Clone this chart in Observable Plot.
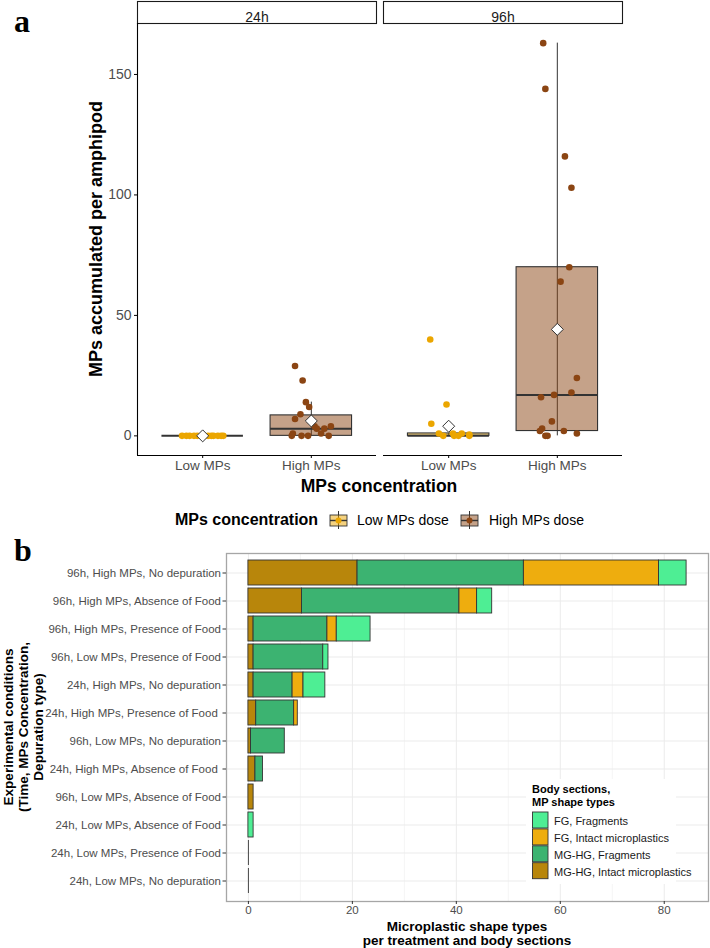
<!DOCTYPE html>
<html>
<head>
<meta charset="utf-8">
<script src="https://cdn.jsdelivr.net/npm/d3@7"></script>
<script src="https://cdn.jsdelivr.net/npm/@observablehq/plot@0.6"></script>
<style>
  html,body{margin:0;padding:0;background:#fff;}
  #root{position:relative;width:710px;height:948px;overflow:hidden;background:#fff;}
</style>
</head>
<body>
<div id="root"></div>
<script>
const FONT = "'Liberation Sans', Arial, Helvetica, sans-serif";

// ================= Panel a data =================
const times = ["24h", "96h"];
const concentrations = ["Low MPs", "High MPs"];
const concColors = ["#EBA600", "#8B4513"];
const legendConcLabels = ["Low MPs dose", "High MPs dose"];

const v24Low  = [0, 0, 0, 0, 0, 0, 0, 0, 0, 0, 0, 0];
const j24Low  = [-0.19, -0.15, -0.12, -0.08, -0.05, 0, 0.05, 0.08, 0.10, 0.14, 0.17, 0.19];
const v24High = [29, 23, 14, 12, 9, 7, 4, 4, 3, 3, 1, 1, 0, 0, 0, 0];
const j24High = [-0.15, -0.08, -0.05, -0.02, -0.10, -0.15, 0.03, 0.18, 0.12, 0.05, 0.09, -0.17, -0.18, -0.09, -0.03, 0.16];
const v96Low  = [40, 13, 5, 1, 1, 1, 0.5, 0, 0, 0, 0];
const j96Low  = [-0.17, -0.02, -0.16, -0.09, 0.04, 0.12, 0.19, 0.05, 0.09, 0.19, -0.05];
const v96High = [163, 144, 116, 103, 70, 64, 24, 18, 17, 16, 6, 3, 2, 2, 1, 0, 0];
const j96High = [-0.13, -0.11, 0.07, 0.13, 0.11, 0.03, 0.18, 0.13, -0.03, -0.15, -0.05, -0.14, -0.16, 0.06, 0.18, -0.11, -0.09];

// box summaries: 24h Low, 24h High, 96h Low, 96h High
const boxTime   = ["24h", "24h", "96h", "96h"];
const boxConc   = ["Low MPs", "High MPs", "Low MPs", "High MPs"];
const boxQ1     = [0, 0, 0, 2];
const boxMedian = [0, 3, 0, 17];
const boxQ3     = [0, 8.5, 1, 70];
const boxLow    = [0, 0, 0, 0];
const boxHigh   = [0, 14, 1, 163];
const boxMean   = [0, 6.2, 4.0, 44.2];
const yTicksA = [0, 50, 100, 150];

// ================= Panel b data =================
const conditions = [
  "96h, High MPs, No depuration",
  "96h, High MPs, Absence of Food",
  "96h, High MPs, Presence of Food",
  "96h, Low MPs, Presence of Food",
  "24h, High MPs, No depuration",
  "24h, High MPs, Presence of Food\u00A0",
  "96h, Low MPs, No depuration",
  "24h, High MPs, Absence of Food\u00A0",
  "96h, Low MPs, Absence of Food",
  "24h, Low MPs, Absence of Food",
  "24h, Low MPs, Presence of Food",
  "24h, Low MPs, No depuration"
];
const shapeTypes  = ["MG-HG, Intact microplastics", "MG-HG, Fragments", "FG, Intact microplastics", "FG, Fragments"];
const shapeColors = ["#B8860B", "#3CB371", "#EEAD0E", "#4EEE94"];
const mghgIntact = [21, 10.3, 1.0, 1.0, 1.0, 1.5, 0.5, 1.35, 1.0, 0, 0, 0];
const mghgFrag   = [32, 30.3, 14.2, 13.4, 7.5, 7.3, 6.5, 1.45, 0, 0, 0, 0];
const fgIntact   = [26, 3.4, 1.8, 0, 2.1, 0.7, 0, 0, 0, 0, 0, 0];
const fgFrag     = [5.3, 2.9, 6.5, 1.0, 4.2, 0, 0, 0, 0, 1.0, 0, 0];
const xTicksB = [0, 20, 40, 60, 80];
const xMinorB = [10, 30, 50, 70];

// ================= Build panel a =================
const points = [];
function addPts(time, conc, vals, jit) { vals.forEach((v, i) => points.push({time, conc, value: v, jitter: jit[i]})); }
addPts("24h", "Low MPs", v24Low, j24Low);
addPts("24h", "High MPs", v24High, j24High);
addPts("96h", "Low MPs", v96Low, j96Low);
addPts("96h", "High MPs", v96High, j96High);

const boxes = boxTime.map((t, i) => ({time: t, conc: boxConc[i], q1: boxQ1[i], median: boxMedian[i], q3: boxQ3[i], lo: boxLow[i], hi: boxHigh[i], mean: boxMean[i]}));
const xPos = c => concentrations.indexOf(c) + 1;
const halfBox = 0.375;
const yMaxA = d3.max(points, d => d.value);
const yDomA = [-0.05 * yMaxA, 1.05 * yMaxA];
const xDomA = [0.4, 2.6];
const HEIGHT_A = 500, TOP_A = 23, BOTTOM_A = 455;
const panelAH = BOTTOM_A - TOP_A;

const plotA = Plot.plot({
  width: 710, height: HEIGHT_A,
  marginTop: TOP_A, marginBottom: HEIGHT_A - BOTTOM_A, marginLeft: 136, marginRight: 88,
  style: {fontFamily: FONT, background: "transparent", overflow: "visible"},
  fx: {domain: times, paddingInner: 0.03, paddingOuter: 0, axis: null, label: null},
  x: {type: "linear", domain: xDomA},
  y: {domain: yDomA},
  color: {domain: concentrations, range: concColors},
  marks: [
    Plot.frame({fill: "white", stroke: "#1a1a1a", strokeWidth: 1.1, insetTop: -22, insetBottom: panelAH}),
    Plot.text(times, {fx: d => d, text: d => d, frameAnchor: "top", dy: -11, fontSize: 14, fill: "#1a1a1a"}),
    Plot.ruleY([yDomA[0]], {stroke: "#000", strokeWidth: 1.1}),
    Plot.ruleX([{t: times[0]}], {x: () => xDomA[0], fx: "t", stroke: "#000", strokeWidth: 1.1}),
    Plot.ruleX(boxes, {fx: "time", x: d => xPos(d.conc), y1: "lo", y2: "hi", stroke: "#333", strokeWidth: 1}),
    Plot.rect(boxes, {fx: "time", x1: d => xPos(d.conc) - halfBox, x2: d => xPos(d.conc) + halfBox, y1: "q1", y2: "q3", fill: "conc", fillOpacity: 0.5, stroke: "#333", strokeWidth: 1.1}),
    Plot.ruleY(boxes, {fx: "time", y: "median", x1: d => xPos(d.conc) - halfBox, x2: d => xPos(d.conc) + halfBox, stroke: "#333", strokeWidth: 2}),
    Plot.dot(points, {fx: "time", x: d => xPos(d.conc) + d.jitter, y: "value", fill: "conc", r: 3.3}),
    Plot.dot(boxes, {fx: "time", x: d => xPos(d.conc), y: "mean", symbol: "diamond2", r: 5.4, fill: "white", stroke: "#333", strokeWidth: 1}),
    Plot.axisY({ticks: yTicksA, tickSize: 3, tickPadding: 3, fontSize: 14, fill: "#4d4d4d", stroke: "#000", label: null}),
    Plot.axisX({ticks: [1, 2], tickFormat: d => concentrations[d - 1], tickSize: 3, tickPadding: 2, fontSize: 13.5, fill: "#4d4d4d", stroke: "#000", label: null})
  ]
});

// ================= Build panel b =================
const seriesVals = [mghgIntact, mghgFrag, fgIntact, fgFrag];
const bars = [];
shapeTypes.forEach((s, k) => conditions.forEach((c, i) => bars.push({cond: c, type: s, value: seriesVals[k][i]})));
const totals = conditions.map((c, i) => d3.sum(seriesVals, s => s[i]));
const zeroRows = conditions.filter((c, i) => totals[i] === 0);
const xMaxB = d3.max(totals);
const xDomB = [-0.05 * xMaxB, 1.05 * xMaxB];

const plotB = Plot.plot({
  width: 710, height: 448,
  marginTop: 53, marginBottom: 47, marginLeft: 226, marginRight: 2,
  style: {fontFamily: FONT, background: "transparent", overflow: "visible"},
  x: {domain: xDomB},
  y: {domain: conditions, paddingInner: 0.1, paddingOuter: 0.15},
  color: {domain: shapeTypes, range: shapeColors},
  marks: [
    Plot.ruleX(xMinorB, {stroke: "#f2f2f2", strokeWidth: 0.8}),
    Plot.ruleX(xTicksB, {stroke: "#ebebeb", strokeWidth: 1}),
    Plot.gridY({stroke: "#ebebeb", strokeOpacity: 1, strokeWidth: 1}),
    Plot.barX(bars, {x: "value", y: "cond", fill: "type", stroke: "#333", strokeWidth: 0.9}),
    Plot.tickX(zeroRows, {x: () => 0, y: d => d, stroke: "#333", strokeWidth: 0.9}),
    Plot.frame({stroke: "#a6a6a6", strokeWidth: 1.3}),
    Plot.axisY({tickSize: 3.5, tickPadding: 2, fontSize: 11.5, fill: "#4d4d4d", stroke: "#333", label: null}),
    Plot.axisX({ticks: xTicksB, tickSize: 3, tickPadding: 1.5, fontSize: 11.5, fill: "#4d4d4d", stroke: "#333", label: null})
  ]
});

const root = document.getElementById("root");
plotA.style.position = "absolute"; plotA.style.left = "0px"; plotA.style.top = "0px";
plotB.style.position = "absolute"; plotB.style.left = "0px"; plotB.style.top = "500px";
root.appendChild(plotA);
root.appendChild(plotB);

// ================= Titles, labels and legends =================
const ov = d3.select(root).append("svg")
  .attr("width", 710).attr("height", 948)
  .style("position", "absolute").style("left", "0px").style("top", "0px")
  .attr("font-family", FONT);
function T(x, y, s, a = {}) {
  const t = ov.append("text").attr("x", x).attr("y", y).text(s);
  for (const k in a) t.attr(k, a[k]);
  return t;
}
const SERIF = "'Liberation Serif', 'DejaVu Serif', serif";
T(14, 32, "a", {"font-family": SERIF, "font-weight": "bold", "font-size": 32, fill: "#000"});
T(14, 561, "b", {"font-family": SERIF, "font-weight": "bold", "font-size": 32, fill: "#000"});

// panel a axis titles
T(0, 0, "MPs accumulated per amphipod", {transform: "translate(102,239) rotate(-90)", "text-anchor": "middle", "font-weight": "bold", "font-size": 18, fill: "#000"});
T(379, 491.5, "MPs concentration", {"text-anchor": "middle", "font-weight": "bold", "font-size": 17.5, fill: "#000"});

// top legend (MPs concentration)
T(175, 525, "MPs concentration", {"font-weight": "bold", "font-size": 16, fill: "#000"});
const keyX = [330, 461], labX = [357, 489];
concentrations.forEach((c, i) => {
  const x0 = keyX[i], cx = x0 + 8.5, cy = 520.5;
  ov.append("line").attr("x1", cx).attr("x2", cx).attr("y1", 511).attr("y2", 529).attr("stroke", "#333").attr("stroke-width", 1);
  ov.append("rect").attr("x", x0).attr("y", 515).attr("width", 17).attr("height", 11)
    .attr("fill", concColors[i]).attr("fill-opacity", 0.5).attr("stroke", "#333").attr("stroke-width", 0.9);
  ov.append("line").attr("x1", x0).attr("x2", x0 + 17).attr("y1", cy).attr("y2", cy).attr("stroke", "#333").attr("stroke-width", 1.4);
  ov.append("circle").attr("cx", cx).attr("cy", cy).attr("r", 3).attr("fill", concColors[i]);
  T(labX[i], 525, legendConcLabels[i], {"font-size": 14, fill: "#000"});
});

// panel b axis titles
["Experimental conditions", "(Time, MPs Concentration,", "Depuration type)"].forEach((s, i) =>
  T(0, 0, s, {transform: `translate(${12.5 + 15 * i},727) rotate(-90)`, "text-anchor": "middle", "font-weight": "bold", "font-size": 13.5, fill: "#000"}));
T(467, 931, "Microplastic shape types", {"text-anchor": "middle", "font-weight": "bold", "font-size": 13.5, fill: "#000"});
T(467, 945, "per treatment and body sections", {"text-anchor": "middle", "font-weight": "bold", "font-size": 13.5, fill: "#000"});

// panel b legend (inside)
ov.append("rect").attr("x", 526).attr("y", 779).attr("width", 150).attr("height", 105).attr("fill", "white");
T(532, 793, "Body sections,", {"font-weight": "bold", "font-size": 11, fill: "#000"});
T(532, 805.6, "MP shape types", {"font-weight": "bold", "font-size": 11, fill: "#000"});
const legOrder = [3, 2, 1, 0];
legOrder.forEach((k, i) => {
  ov.append("rect").attr("x", 532.5).attr("y", 812 + i * 16.9).attr("width", 15.5).attr("height", 16)
    .attr("fill", shapeColors[k]).attr("stroke", "#333").attr("stroke-width", 0.9);
  T(554, 824.6 + i * 17, shapeTypes[k], {"font-size": 11, fill: "#1a1a1a"});
});
</script>
</body>
</html>
